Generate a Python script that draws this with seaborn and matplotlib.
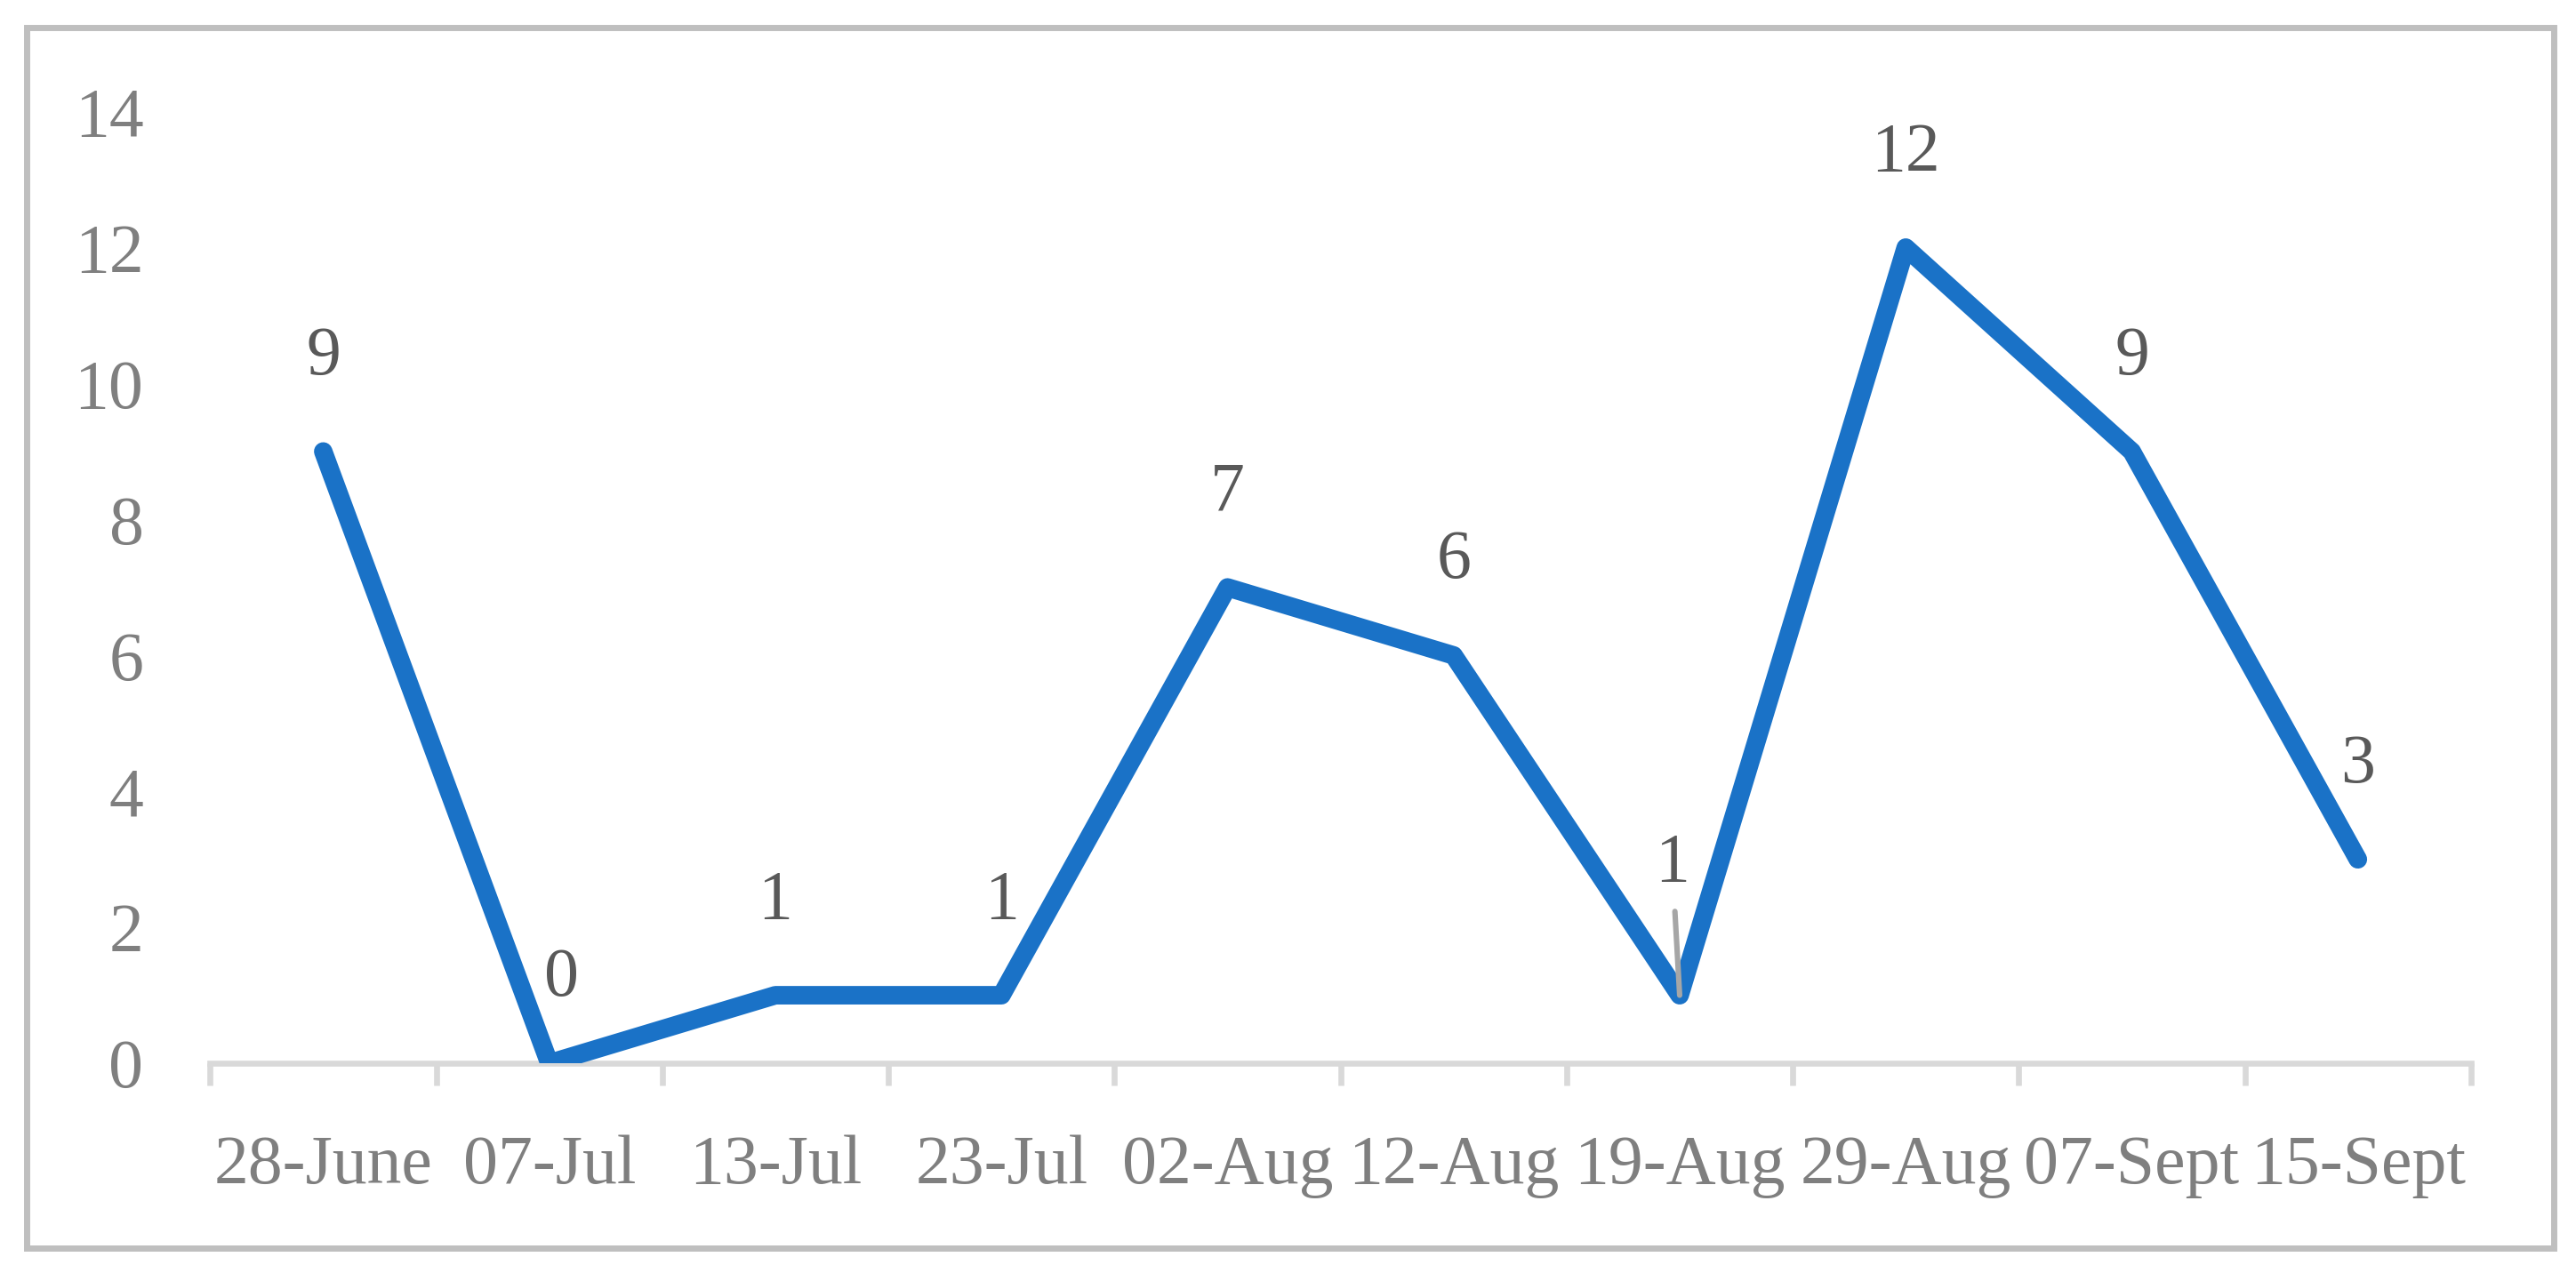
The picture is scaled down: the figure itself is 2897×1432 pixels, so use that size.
import matplotlib
matplotlib.use("Agg")
import matplotlib.pyplot as plt
import seaborn as sns
import numpy as np
import pandas as pd
from matplotlib.patches import Rectangle

dates = ["28-June", "07-Jul", "13-Jul", "23-Jul", "02-Aug", "12-Aug",
         "19-Aug", "29-Aug", "07-Sept", "15-Sept"]
counts = [9, 0, 1, 1, 7, 6, 1, 12, 9, 3]
y_ticks = [0, 2, 4, 6, 8, 10, 12, 14]

sns.set_theme(style="white")
plt.rcParams['font.family'] = ['Liberation Serif', 'DejaVu Serif']

df = pd.DataFrame({"pos": np.arange(len(dates)), "count": counts, "date": dates})

fig = plt.figure(figsize=(2897 / 200, 1432 / 200), dpi=200)
ax = fig.add_axes([0.0816, 0.1648, 0.9592 - 0.0816, 0.9123 - 0.1648])

line_color = "#1A72C7"
sns.lineplot(data=df, x="pos", y="count", ax=ax, color=line_color,
             linewidth=7.5, solid_capstyle="round", solid_joinstyle="round")

ax.set_xlim(-0.5, len(dates) - 0.5)
ax.set_ylim(0, 14)
ax.set_yticks(y_ticks)
ax.set_yticklabels([str(v) for v in y_ticks])
ax.set_xticks(np.arange(len(dates)))
ax.set_xticklabels(dates)
ax.set_xticks(np.arange(-0.5, len(dates)), minor=True)
ax.set_xlabel("")
ax.set_ylabel("")

label_color = "#7F7F7F"
fs = 28
ax.tick_params(axis="x", which="major", bottom=False, length=0, pad=29,
               labelsize=fs, labelcolor=label_color)
ax.tick_params(axis="x", which="minor", bottom=True, length=9, width=2.4,
               color="#D9D9D9", direction="out")
ax.tick_params(axis="y", which="major", left=False, length=0, pad=27,
               labelsize=fs, labelcolor=label_color)

for s in ["top", "right", "left"]:
    ax.spines[s].set_visible(False)
ax.spines["bottom"].set_color("#D9D9D9")
ax.spines["bottom"].set_linewidth(2.4)
ax.spines["bottom"].set_zorder(0)
ax.grid(False)

# data labels
data_label_color = "#595959"
for i, v in enumerate(counts):
    dx, dy = 0, 38
    if i == 1:
        dx = 5
        dy = 34
    if i == 6:
        ax.annotate(str(v), xy=(i, v), xytext=(-3, 53), textcoords="offset points",
                    ha="center", va="center", fontsize=fs, color=data_label_color,
                    arrowprops=dict(arrowstyle="-", color="#A6A6A6", lw=2.2,
                                    shrinkA=4, shrinkB=0))
        continue
    ax.annotate(str(v), xy=(i, v), xytext=(dx, dy), textcoords="offset points",
                ha="center", va="center", fontsize=fs, color=data_label_color)

# outer border
fig.patches.append(Rectangle((0.0104, 0.0199), 0.9914 - 0.0104, 0.9787 - 0.0199,
                             transform=fig.transFigure, fill=False,
                             edgecolor="#BFBFBF", linewidth=2.5))

fig.savefig("out.png", dpi=200)
